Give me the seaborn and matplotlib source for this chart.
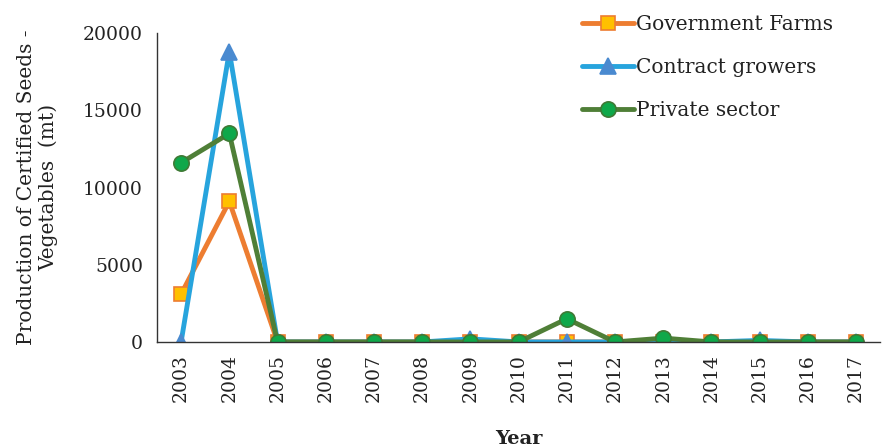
import matplotlib
matplotlib.use("Agg")
import matplotlib.pyplot as plt
import seaborn as sns
import pandas as pd
import numpy as np

years = ["2003", "2004", "2005", "2006", "2007", "2008", "2009", "2010",
         "2011", "2012", "2013", "2014", "2015", "2016", "2017"]
government_farms = [3100, 9100, 0, 0, 0, 0, 0, 0, 0, 0, 0, 0, 0, 0, 0]
contract_growers = [0, 18800, 0, 0, 0, 0, 200, 0, 0, 0, 50, 0, 100, 0, 0]
private_sector = [11600, 13500, 0, 0, 0, 0, 0, 0, 1500, 0, 250, 0, 0, 0, 0]

series = [
    ("Government Farms", government_farms, "#ED7D31", "#FFC000", "#ED7D31", "s", 10),
    ("Contract growers", contract_growers, "#27A4DD", "#4A8AD0", "#4A8AD0", "^", 11),
    ("Private sector", private_sector, "#4F7F37", "#0FA84A", "#3F7A35", "o", 11),
]

sns.set_style("white")
plt.rcParams["font.family"] = ["DejaVu Serif"]

fig = plt.figure(figsize=(8.82, 4.47), dpi=100)
ax = fig.add_axes([0.178, 0.235, 0.82, 0.691])

pos = np.arange(len(years))
handles = []
for name, vals, lc, mfc, mec, mk, ms in series:
    df = pd.DataFrame({"x": pos, "y": vals})
    sns.lineplot(data=df, x="x", y="y", ax=ax, color=lc, linewidth=3.5,
                 marker=mk, markersize=ms,
                 markerfacecolor=mfc, markeredgecolor=mec, markeredgewidth=1.2,
                 label=name, legend=False)
    handles.append(ax.lines[-1])

ax.set_xlim(-0.5, len(years) - 0.5)
ax.set_ylim(0, 20000)
ax.set_yticks([0, 5000, 10000, 15000, 20000])
ax.set_yticklabels(["0", "5000", "10000", "15000", "20000"], fontsize=13.5, color="#222222")
ax.set_xticks(pos)
ax.set_xticklabels(years, rotation=90, fontsize=13.5, color="#222222")
ax.tick_params(axis="y", length=0, pad=10)
ax.tick_params(axis="x", length=0, pad=9)
for s in ["top", "right"]:
    ax.spines[s].set_visible(False)
for s in ["left", "bottom"]:
    ax.spines[s].set_color("#333333")
    ax.spines[s].set_linewidth(1.0)

ax.set_ylabel("Production of Certified Seeds -\nVegetables  (mt)", fontsize=14.5,
              color="#222222", labelpad=18, linespacing=1.15)
ax.set_xlabel("Year", fontsize=14, fontweight="bold", color="#222222", labelpad=20)

leg = fig.legend(handles=handles, labels=[s[0] for s in series],
                 loc="upper right", bbox_to_anchor=(0.965, 1.008), frameon=False,
                 fontsize=14.5, handlelength=2.6, handletextpad=0.1,
                 labelspacing=1.2)
for t in leg.get_texts():
    t.set_color("#222222")

fig.savefig("out.png", dpi=100)
